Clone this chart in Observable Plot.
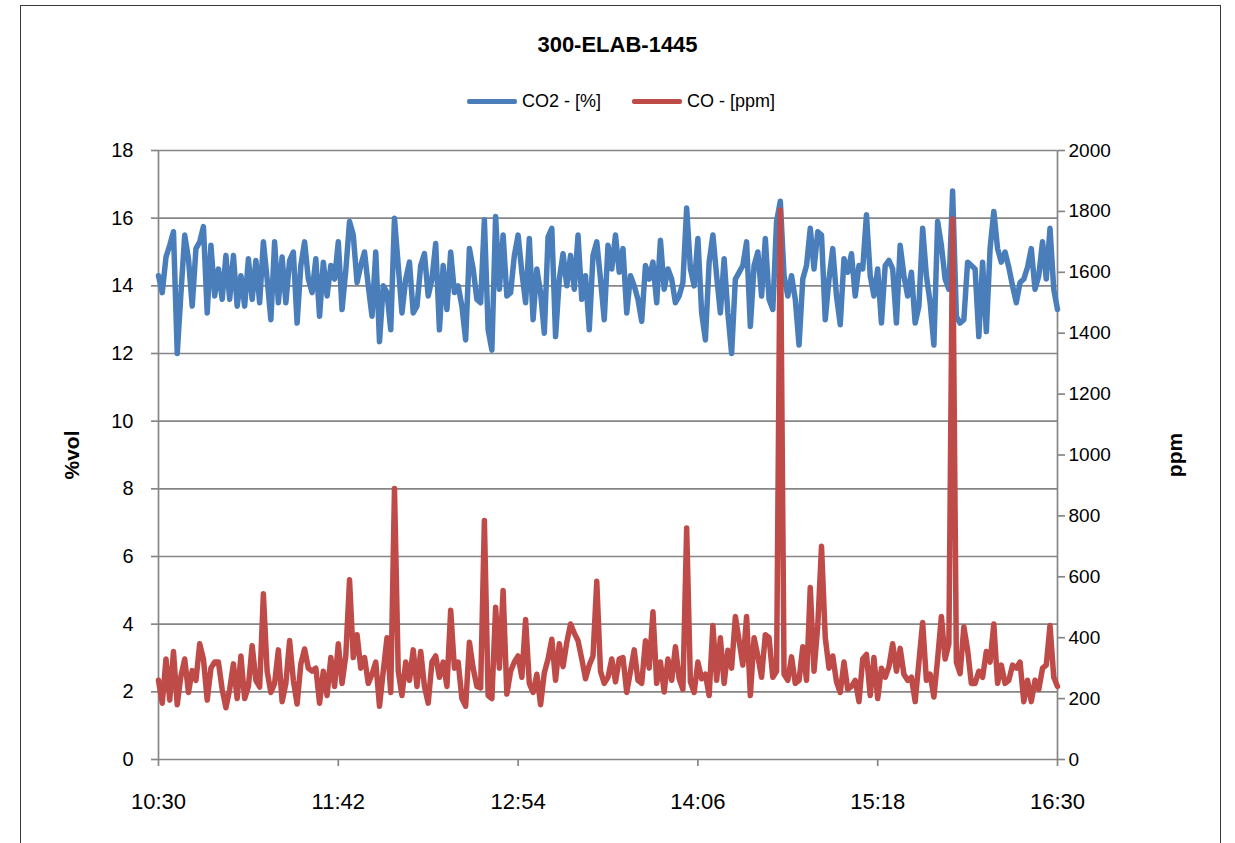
<!DOCTYPE html>
<html>
<head>
<meta charset="utf-8">
<script src="https://cdn.jsdelivr.net/npm/d3@7"></script>
<script src="https://cdn.jsdelivr.net/npm/@observablehq/plot@0.6"></script>
<style>
  body { margin: 0; background: #fff; }
  #wrap { position: relative; width: 1235px; height: 843px; overflow: hidden; font-family: "Liberation Sans", Arial, sans-serif; }
  #frame { position: absolute; left: 20px; top: 5px; width: 1201px; height: 900px; border: 1px solid #3a3a3a; box-sizing: border-box; }
  #title { position: absolute; top: 32px; left: 0; width: 1235px; text-align: center; font-weight: bold; font-size: 22px; color: #000; }
  #legend { position: absolute; top: 88px; left: 467px; font-size: 18px; color: #000; white-space: nowrap; }
  .item { display: inline-flex; align-items: center; margin-right: 31px; }
  .sw { display: inline-block; width: 50px; height: 5px; margin-right: 5px; border-radius: 2px; }
  #chart { position: absolute; left: 0; top: 0; }
</style>
</head>
<body>
<div id="wrap">
  <div id="frame"></div>
  <div id="chart"></div>
  <div id="title"></div>
  <div id="legend"></div>
</div>
<script>
// ---- data ----
const chartTitle = "300-ELAB-1445";
const seriesNames = ["CO2 - [%]", "CO - [ppm]"];
const seriesColors = ["#4a7ebb", "#be4b48"];
const startTime = "10:30";
const stepMinutes = 1.5;
const xTickLabels = ["10:30", "11:42", "12:54", "14:06", "15:18", "16:30"];
const leftTicks = [0, 2, 4, 6, 8, 10, 12, 14, 16, 18];
const rightTicks = [0, 200, 400, 600, 800, 1000, 1200, 1400, 1600, 1800, 2000];
const leftLabel = "%vol";
const rightLabel = "ppm";

const co2 = [
14.3,13.8,14.85,15.2,15.6,12.0,13.8,15.5,14.8,13.4,
15.1,15.3,15.75,13.2,15.2,13.7,14.5,13.6,14.9,13.6,
14.9,13.4,14.3,13.4,14.8,13.6,14.75,13.5,15.3,14.2,
13.0,15.3,13.5,14.85,13.5,14.75,15.0,12.9,14.6,15.3,
14.2,13.8,14.8,13.1,14.7,13.7,14.6,14.2,15.3,13.3,
14.45,15.9,15.5,14.1,14.6,15.0,14.0,13.1,15.0,12.35,
14.0,13.8,12.7,16.0,14.6,13.2,14.2,14.7,13.2,13.4,
14.6,14.95,13.7,14.2,15.25,12.7,14.6,13.3,15.0,13.8,
14.0,13.4,12.4,15.1,14.5,13.6,13.5,15.95,12.7,12.1,
16.05,13.9,15.5,13.7,13.8,14.9,15.5,14.4,13.5,15.4,
13.0,14.5,13.8,12.6,15.45,15.7,12.5,14.2,14.95,14.0,
14.9,13.9,15.5,13.6,14.3,12.7,14.9,15.3,14.2,13.0,
15.2,14.5,15.5,14.4,15.1,13.2,14.3,14.0,13.6,12.95,
14.6,14.2,14.7,13.5,15.35,13.9,14.5,14.2,13.5,13.7,
14.1,16.3,14.5,14.0,15.4,13.2,12.4,14.7,15.5,14.3,
13.2,14.8,13.2,12.0,14.2,14.4,14.6,15.3,12.8,14.6,
15.0,13.7,15.4,13.6,13.3,15.9,16.5,14.3,13.7,14.3,
13.6,12.25,14.2,14.6,15.7,14.5,15.6,15.5,13.0,14.2,
15.1,13.7,12.85,14.8,14.4,14.95,13.7,14.6,14.5,16.1,
14.3,13.7,14.5,12.9,14.6,14.75,14.5,12.9,15.2,14.3,
13.7,14.4,12.9,13.4,15.7,14.3,13.5,12.25,15.9,15.2,
14.2,13.9,16.8,13.1,12.9,13.0,14.7,14.6,14.5,12.5,
14.7,12.65,15.1,16.2,15.1,14.7,15.0,14.55,14.0,13.5,
14.1,14.2,14.55,15.1,13.9,14.3,15.3,14.2,15.7,13.9,
13.3
];

const co = [
260,185,330,195,355,180,275,330,220,292,
260,380,330,195,300,320,320,230,170,230,
314,200,340,200,240,374,260,238,544,290,
220,250,360,190,250,391,260,182,314,363,
300,290,300,185,290,210,335,240,380,250,
340,590,335,410,300,335,250,280,320,175,
290,400,220,890,290,210,320,260,360,240,
355,240,185,320,340,270,320,240,490,300,
320,200,175,385,300,240,235,785,210,200,
500,300,555,215,290,320,340,270,460,250,
220,280,180,285,330,395,260,380,305,385,
445,415,390,330,265,310,340,585,290,250,
270,330,255,330,335,220,290,360,260,250,
390,300,485,250,320,222,330,260,370,265,
230,760,255,220,320,265,280,210,440,260,
400,250,359,300,470,390,310,470,210,400,
340,270,410,400,270,290,1805,280,260,337,
250,260,370,260,565,290,440,700,400,300,
340,255,220,320,230,240,260,190,330,345,
210,335,200,300,270,305,380,290,365,280,
260,270,190,320,450,260,280,205,330,470,
330,380,1775,320,282,436,360,250,250,290,
270,355,320,445,250,310,250,260,310,300,
320,190,260,190,260,230,300,310,440,270,
240
];

// ---- build ----
const toDate = s => { const [h, m] = s.split(":").map(Number); return new Date(Date.UTC(2000, 0, 1, h, m)); };
const t0 = toDate(startTime).getTime();
const k = 18 / 2000; // ppm -> left-axis units
const rows = co2.map((v, i) => ({ t: new Date(t0 + i * stepMinutes * 60000), co2: v, co: co[i] * k }));
const xTicks = xTickLabels.map(toDate);
const xDomain = [xTicks[0], xTicks[xTicks.length - 1]];
const gray = "#868686";
const font = "'Liberation Sans', Arial, sans-serif";

const chart = Plot.plot({
  width: 1235, height: 843,
  marginLeft: 158, marginRight: 178, marginTop: 150, marginBottom: 84,
  style: { fontFamily: font, fontSize: "18px", color: "#000", background: "transparent", overflow: "visible" },
  x: { type: "utc", domain: xDomain },
  y: { domain: [0, 18] },
  marks: [
    Plot.gridY(leftTicks, { stroke: gray, strokeOpacity: 1, strokeWidth: 1.7 }),
    Plot.ruleX(xDomain, { stroke: gray, strokeWidth: 1.7 }),
    Plot.axisY(leftTicks, { anchor: "left", tickSize: 7, tickPadding: 18, fontSize: 20, stroke: gray, strokeWidth: 1.7, label: null, fill: "#000" }),
    Plot.axisY(rightTicks.map(d => d * k), { anchor: "right", tickSize: 7, tickPadding: 4, fontSize: 19, tickFormat: d => String(Math.round(d / k)), stroke: gray, strokeWidth: 1.7, label: null, fill: "#000" }),
    Plot.axisX(xTicks, { anchor: "bottom", tickSize: 7, tickPadding: 27, fontSize: 22, tickFormat: d3.utcFormat("%H:%M"), stroke: gray, strokeWidth: 1.7, label: null, fill: "#000" }),
    Plot.line(rows, { x: "t", y: "co2", stroke: seriesColors[0], strokeWidth: 5.5, strokeLinejoin: "round", strokeLinecap: "round" }),
    Plot.line(rows, { x: "t", y: "co", stroke: seriesColors[1], strokeWidth: 5.5, strokeLinejoin: "round", strokeLinecap: "round" }),
    Plot.text([leftLabel], { text: d => d, frameAnchor: "left", textAnchor: "middle", dx: -86, rotate: -90, fontWeight: "bold", fontSize: 21, fill: "#000" }),
    Plot.text([rightLabel], { text: d => d, frameAnchor: "right", textAnchor: "middle", dx: 118, rotate: -90, fontWeight: "bold", fontSize: 21, fill: "#000" })
  ]
});
document.getElementById("chart").appendChild(chart);

document.getElementById("title").textContent = chartTitle;
const legend = document.getElementById("legend");
seriesNames.forEach((name, i) => {
  const item = document.createElement("span");
  item.className = "item";
  const sw = document.createElement("span");
  sw.className = "sw";
  sw.style.background = seriesColors[i];
  const tx = document.createElement("span");
  tx.textContent = name;
  item.appendChild(sw); item.appendChild(tx);
  legend.appendChild(item);
});
</script>
</body>
</html>
